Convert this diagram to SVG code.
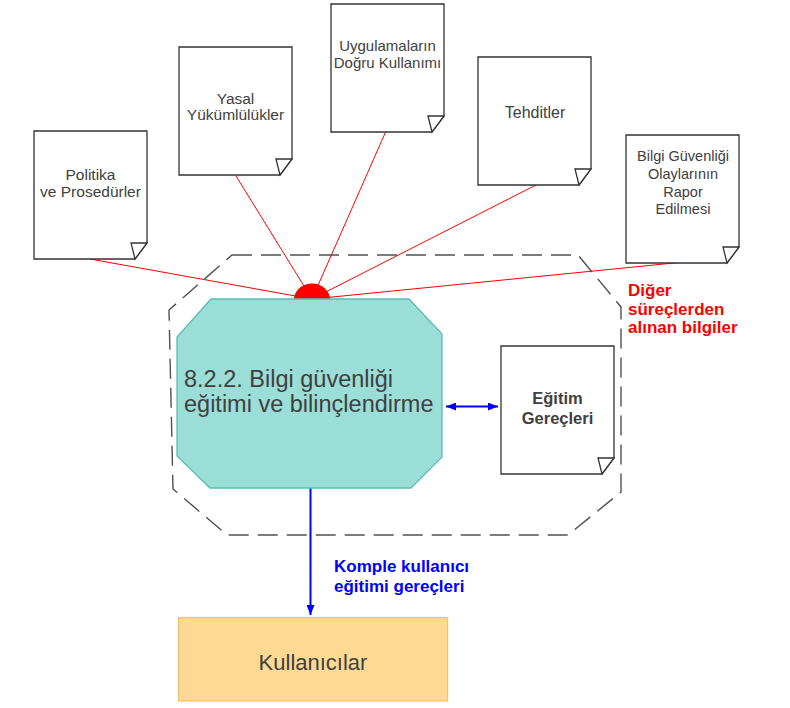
<svg xmlns="http://www.w3.org/2000/svg" xmlns:xlink="http://www.w3.org/1999/xlink" width="790" height="708" viewBox="0 0 790 708">
  <style>
    .doc { fill: #ffffff; stroke: #333333; stroke-width: 1.3; stroke-linejoin: miter; }
    .doc-text { font-family: "Liberation Sans", Arial, sans-serif; fill: #404040; text-anchor: middle; }
    .feed { stroke: #ff0000; stroke-width: 1; fill: none; }
    .flow { stroke: #0000ff; stroke-width: 2; fill: none; }
    .label { font-family: "Liberation Sans", Arial, sans-serif; font-weight: bold; font-size: 17px; }
  </style>
  <defs>
    <!-- page with a curled lower-right corner, 113 x 128 -->
    <g id="page">
      <path class="doc" d="M0,0 H113 V112 L101,128 H0 Z"/>
      <path class="doc" d="M97,112 L113,112 L101,128 Z"/>
    </g>
    <marker id="arrowBlue" viewBox="0 0 10 8" refX="10" refY="4" markerWidth="10" markerHeight="8" markerUnits="userSpaceOnUse" orient="auto-start-reverse">
      <path d="M0,0 L10,4 L0,8 Z" fill="#0000ff"/>
    </marker>
  </defs>

  <!-- dashed process boundary -->
  <path id="boundary" d="M232,255 H578 L621,307 V492 L568,535 H227 L173,489 L169,310 Z" fill="none" stroke="#505050" stroke-width="1.4" stroke-dasharray="20 9"/>

  <g id="connectors">
    <line class="feed" x1="90" y1="259" x2="312" y2="299"/>
    <line class="feed" x1="236" y1="176" x2="312" y2="299"/>
    <line class="feed" x1="386" y1="131" x2="312" y2="299"/>
    <line class="feed" x1="536" y1="185" x2="312" y2="299"/>
    <line class="feed" x1="684" y1="262" x2="312" y2="299"/>
    <line class="flow" x1="446" y1="406.5" x2="498" y2="406.5" marker-start="url(#arrowBlue)" marker-end="url(#arrowBlue)"/>
    <line class="flow" x1="310.5" y1="488" x2="310.5" y2="615" marker-end="url(#arrowBlue)"/>
  </g>

  <g id="doc-politika">
    <use xlink:href="#page" x="34" y="131"/>
    <text class="doc-text" font-size="15.5"><tspan x="90.5" y="180">Politika</tspan><tspan x="90.5" y="197">ve Prosedürler</tspan></text>
  </g>

  <g id="doc-yasal">
    <use xlink:href="#page" x="179" y="47"/>
    <text class="doc-text" font-size="15.5"><tspan x="235.5" y="104">Yasal</tspan><tspan x="235.5" y="120">Yükümlülükler</tspan></text>
  </g>

  <g id="doc-uygulama">
    <use xlink:href="#page" x="331" y="4"/>
    <text class="doc-text" font-size="15"><tspan x="387.5" y="51">Uygulamaların</tspan><tspan x="387.5" y="67.5">Doğru Kullanımı</tspan></text>
  </g>

  <g id="doc-tehditler">
    <use xlink:href="#page" x="478" y="57"/>
    <text class="doc-text" font-size="16" x="535" y="118">Tehditler</text>
  </g>

  <g id="doc-olaylar">
    <use xlink:href="#page" x="626" y="135"/>
    <text class="doc-text" font-size="14.5"><tspan x="683" y="161">Bilgi Güvenliği</tspan><tspan x="683" y="179">Olaylarının</tspan><tspan x="683" y="197">Rapor</tspan><tspan x="683" y="214">Edilmesi</tspan></text>
  </g>

  <!-- junction where the inputs meet -->
  <g id="junction">
    <path d="M294,299.5 A18,16 0 0 1 330,299.5 Z" fill="#ff0000"/>
  </g>

  <g id="process">
    <polygon points="211,299 409,299 442,334 442,457 411,488 210,488 177,456 177,337" fill="#9bddd7" stroke="#5bbdb5" stroke-width="1.3"/>
    <text font-family="Liberation Sans, Arial, sans-serif" font-size="23.5" fill="#404040"><tspan x="184" y="387">8.2.2. Bilgi güvenliği</tspan><tspan x="184" y="412">eğitimi ve bilinçlendirme</tspan></text>
  </g>

  <g id="doc-gerecler">
    <use xlink:href="#page" x="501" y="346"/>
    <text class="doc-text" font-size="16.5" font-weight="bold"><tspan x="557.5" y="404">Eğitim</tspan><tspan x="557.5" y="424">Gereçleri</tspan></text>
  </g>

  <g id="label-diger">
    <text class="label" fill="#ff0000"><tspan x="628" y="296">Diğer</tspan><tspan x="628" y="315">süreçlerden</tspan><tspan x="628" y="333">alınan bilgiler</tspan></text>
  </g>

  <g id="label-komple">
    <text class="label" fill="#0000ff" font-size="16.5"><tspan x="334" y="572">Komple kullanıcı</tspan><tspan x="334" y="592">eğitimi gereçleri</tspan></text>
  </g>

  <g id="users">
    <rect x="178.5" y="617.5" width="269" height="83.5" fill="#fed994" stroke="#f7c46c" stroke-width="1.3"/>
    <text font-family="Liberation Sans, Arial, sans-serif" font-size="22" fill="#404040" text-anchor="middle" x="313" y="670">Kullanıcılar</text>
  </g>
</svg>
